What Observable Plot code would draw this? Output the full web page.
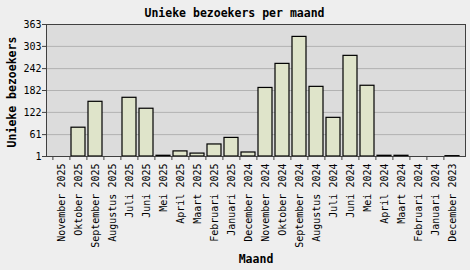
<!DOCTYPE html>
<html><head><meta charset="utf-8">
<script src="https://cdn.jsdelivr.net/npm/d3@7"></script>
<script src="https://cdn.jsdelivr.net/npm/@observablehq/plot@0.6"></script>
<style>
html,body{margin:0;padding:0;background:#eeeeee;}
</style></head><body><div id="chart"></div>
<script>
const months = ["November 2025","Oktober 2025","September 2025","Augustus 2025","Juli 2025","Juni 2025","Mei 2025","April 2025","Maart 2025","Februari 2025","Januari 2025","December 2024","November 2024","Oktober 2024","September 2024","Augustus 2024","Juli 2024","Juni 2024","Mei 2024","April 2024","Maart 2024","Februari 2024","Januari 2024","December 2023"];
const visitors = [1,80,151,0,162,132,3,15,9,34,52,12,189,255,329,192,107,277,195,3,3,0,0,2];
const yTicks = [1,61,122,182,242,303,363];
const title = "Unieke bezoekers per maand";
const yLabel = "Unieke bezoekers";
const xLabel = "Maand";

const data = months.map((m,i)=>({month:m, v:visitors[i]}));
const font = "DejaVu Sans Mono";
const chart = Plot.plot({
  width:470, height:270, marginLeft:46, marginRight:5, marginTop:24, marginBottom:114,
  style:{background:"#eeeeee", fontFamily:font, fontSize:"10px", color:"#000"},
  x:{domain:months, paddingInner:0.16, paddingOuter:0.08, insetLeft:4, insetRight:2, label:null},
  y:{domain:[1,363], label:null},
  marks:[
    Plot.frame({fill:"#dcdcdc"}),
    Plot.gridY(yTicks, {stroke:"#b2b2b2", strokeOpacity:1}),
    Plot.barY(data.filter(d=>d.v>0), {x:"month", y1:1, y2:"v", fill:"#dfe4ca", stroke:"#000", strokeWidth:1.2}),
    Plot.frame({stroke:"#404040"}),
    Plot.axisY(yTicks, {tickSize:4, tickPadding:1, fontSize:10, label:null, stroke:"#404040"}),
    Plot.axisX({tickRotate:-90, tickSize:0, tickPadding:7, fontSize:10, label:null}),
    Plot.axisX({tickSize:4, text:null, dx:-8.6, label:null, stroke:"#404040"}),
    Plot.text([title], {frameAnchor:"top", lineAnchor:"middle", dy:-11.5, dx:-21.5, fontWeight:"bold", fontSize:11.5, fill:"#000"}),
    Plot.text([yLabel], {frameAnchor:"left", textAnchor:"middle", dx:-34, dy:1.5, rotate:-90, fontWeight:"bold", fontSize:11.5, fill:"#000"}),
    Plot.text([xLabel], {frameAnchor:"bottom", lineAnchor:"middle", dy:103, fontWeight:"bold", fontSize:11.5, fill:"#000"})
  ]
});
document.getElementById("chart").appendChild(chart);
</script></body></html>
